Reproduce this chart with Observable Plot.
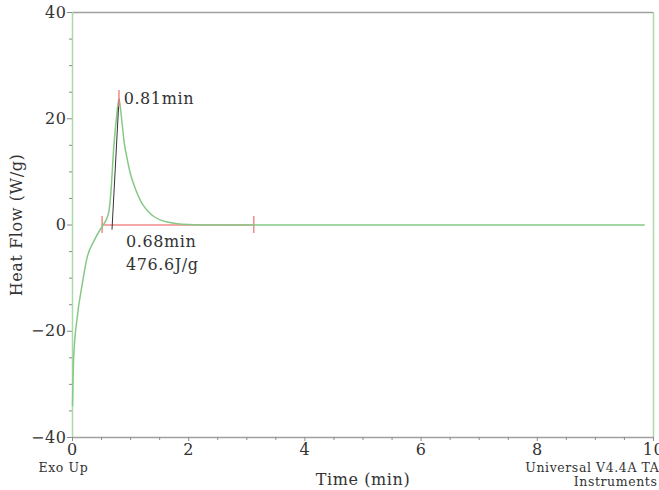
<!DOCTYPE html>
<html>
<head>
<meta charset="utf-8">
<script src="https://cdn.jsdelivr.net/npm/d3@7"></script>
<script src="https://cdn.jsdelivr.net/npm/@observablehq/plot@0.6"></script>
<style>
  html, body { margin: 0; padding: 0; background: #fff; }
  #chart svg { display: block; }
  #chart svg text { letter-spacing: 0.6px; }
</style>
</head>
<body>
<div id="chart"></div>
<script>
// Heat flow curve (time in min, heat flow in W/g)
const times    = [0, 0.02, 0.08, 0.17, 0.25, 0.37, 0.48, 0.54, 0.60, 0.63, 0.66, 0.71, 0.76, 0.80, 0.83, 0.86, 0.89, 0.94, 1.0, 1.06, 1.12, 1.17, 1.23, 1.30, 1.40, 1.50, 1.63, 1.80, 2.0, 2.4, 3.0, 5.0, 7.0, 9.84];
const heatFlow = [-34, -25, -17.5, -11, -6.2, -3, -0.8, 0.2, 1.5, 2.8, 6.0, 14.6, 20.5, 23.7, 21.5, 18.5, 15.5, 12.5, 9.5, 7.5, 5.8, 4.6, 3.5, 2.6, 1.6, 1.0, 0.55, 0.25, 0.1, 0.02, 0, 0, 0, 0];

// Integration baseline and onset tangent
const baselineX = [0.51, 3.12];
const baselineY = [0, 0];
const tangentX = [0.68, 0.80];
const tangentY = [-0.8, 23.7];
const peakX = [0.80];
const peakY = [23.7];

// Annotations
const annX = [0.88, 0.92, 0.92];
const annY = [23.7, -3.2, -7.5];
const annText = ["0.81min", "0.68min", "476.6J/g"];

// Axis ticks
const xTicks = [0, 2, 4, 6, 8, 10];
const xMinor = [0.5, 1, 1.5, 2.5, 3, 3.5, 4.5, 5, 5.5, 6.5, 7, 7.5, 8.5, 9, 9.5];
const yTicks = [-40, -20, 0, 20, 40];
const yMinor = [-35, -30, -25, -15, -10, -5, 5, 10, 15, 25, 30, 35];

const curve = times.map((t, i) => ({t, v: heatFlow[i]}));
const base = baselineX.map((t, i) => ({t, v: baselineY[i]}));
const tang = tangentX.map((t, i) => ({t, v: tangentY[i]}));
const peak = peakX.map((t, i) => ({t, v: peakY[i]}));
const ann = annText.map((s, i) => ({t: annX[i], v: annY[i], s}));

const FONT = "'DejaVu Serif', 'Liberation Serif', serif";
const green = "#86c986";
const red = "#f08a8a";
const gray = "#8c8c8c";
const textColor = "#333";

const chart = Plot.plot({
  width: 659,
  height: 490,
  marginLeft: 72,
  marginRight: 6,
  marginTop: 12,
  marginBottom: 53,
  style: { fontFamily: FONT, fontSize: "16px", color: textColor, background: "#fff" },
  x: { domain: [0, 10] },
  y: { domain: [-40, 40] },
  marks: [
    // frame
    Plot.ruleY([40, -40], { stroke: "#a0a0a0", strokeWidth: 1.5 }),
    Plot.ruleX([0, 10], { stroke: "#a9dba9", strokeWidth: 1.5 }),
    // minor ticks
    Plot.axisX(xMinor, { tickSize: 3, text: null, stroke: gray, label: null }),
    Plot.axisY(yMinor, { tickSize: 3, text: null, stroke: gray, label: null }),
    // major ticks
    Plot.axisX(xTicks, {
      tickSize: 4, tickPadding: 2, stroke: gray, fill: textColor, fontSize: 16,
      label: "Time (min)", labelAnchor: "center", labelArrow: "none", labelOffset: 47
    }),
    Plot.axisY(yTicks, {
      tickSize: 5, tickPadding: 1, stroke: gray, fill: textColor, fontSize: 16,
      label: "Heat Flow (W/g)", labelAnchor: "center", labelArrow: "none", labelOffset: 62
    }),
    // baseline
    Plot.line(base, { x: "t", y: "v", stroke: red, strokeWidth: 1.5 }),
    Plot.ruleX(base, { x: "t", y1: d => d.v - 1.6, y2: d => d.v + 1.6, stroke: red, strokeWidth: 1.5 }),
    // curve
    Plot.line(curve, { x: "t", y: "v", stroke: green, strokeWidth: 1.5, curve: "monotone-x" }),
    // tangent
    Plot.line(tang, { x: "t", y: "v", stroke: "#333", strokeWidth: 1 }),
    // peak mark
    Plot.ruleX(peak, { x: "t", y1: d => d.v - 1.6, y2: d => d.v + 1.6, stroke: red, strokeWidth: 1.5 }),
    // annotations
    Plot.text(ann, { x: "t", y: "v", text: "s", textAnchor: "start", fill: textColor, fontSize: 16 }),
    // footer texts
    Plot.text(["Exo Up"], { frameAnchor: "bottom-left", dx: -34, dy: 34, textAnchor: "start", fill: textColor, fontSize: 12.5 }),
    Plot.text(["Universal V4.4A TA"], { frameAnchor: "bottom-right", dx: 6, dy: 34, textAnchor: "end", fill: textColor, fontSize: 12.5 }),
    Plot.text(["Instruments"], { frameAnchor: "bottom-right", dx: 4, dy: 48, textAnchor: "end", fill: textColor, fontSize: 12.5 })
  ]
});
document.getElementById("chart").appendChild(chart);
</script>
</body>
</html>
